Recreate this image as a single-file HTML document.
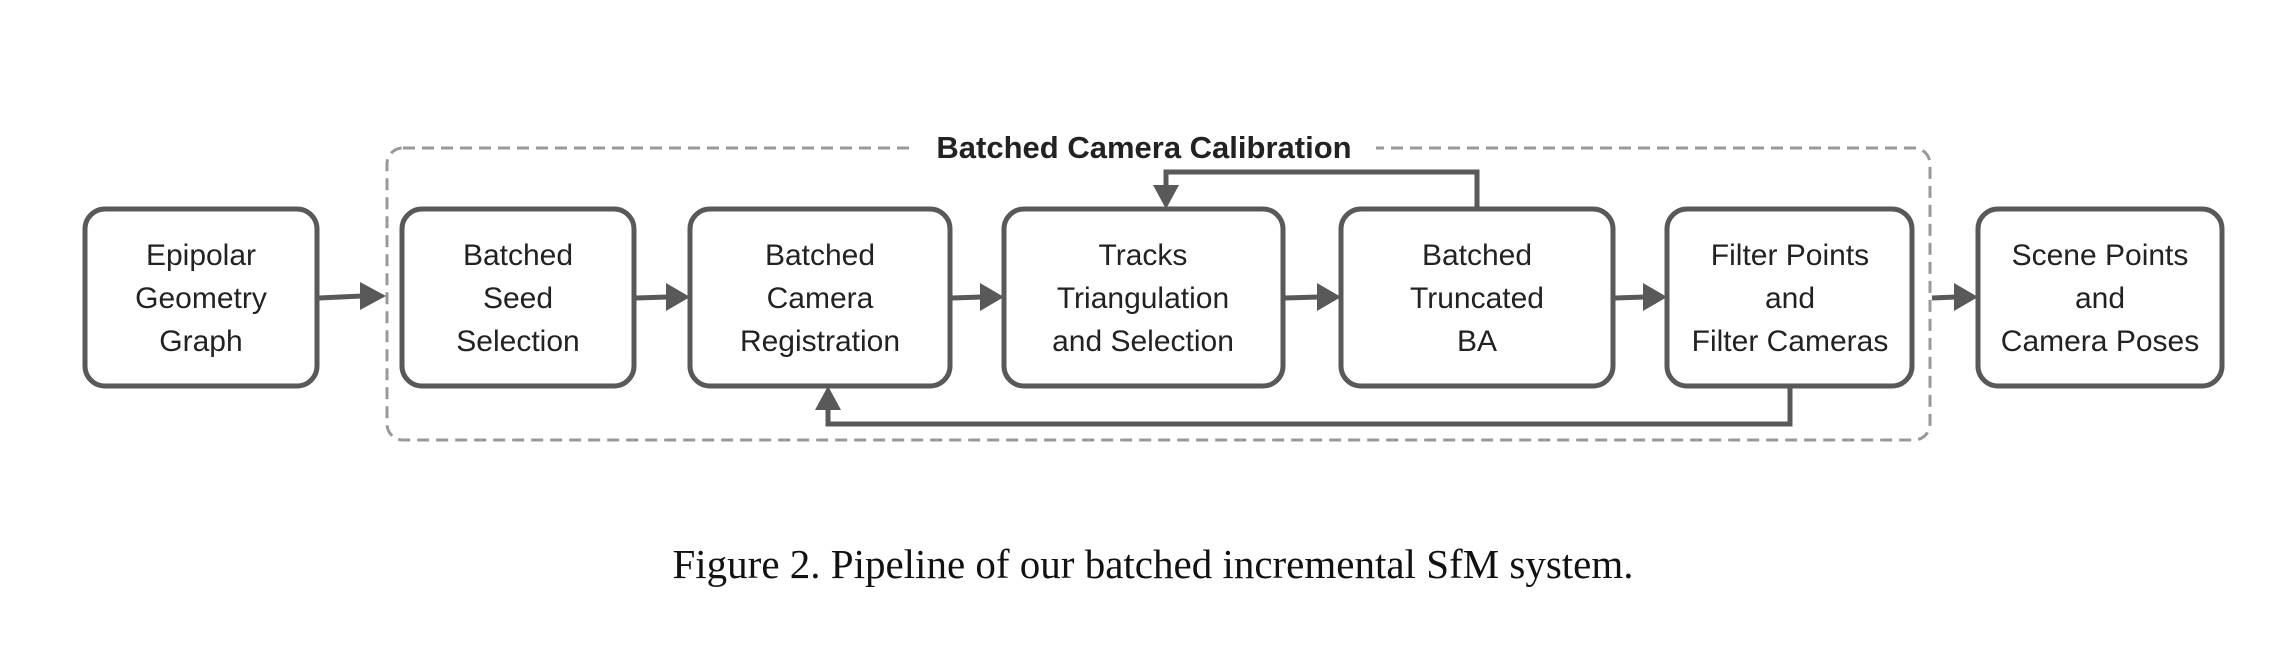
<!DOCTYPE html>
<html><head><style>
html,body{margin:0;padding:0;background:#fff;}
svg{display:block;}
.b{fill:#fff;stroke:#595959;stroke-width:5;}
.t{font-family:"Liberation Sans",sans-serif;font-size:30px;fill:#222;text-anchor:middle;}
.l{stroke:#595959;stroke-width:5;fill:none;}
.a{fill:#595959;}
</style></head><body>
<svg width="2291" height="647" viewBox="0 0 2291 647" xmlns="http://www.w3.org/2000/svg">
<rect x="387" y="148" width="1543" height="292" rx="16" fill="none" stroke="#999" stroke-width="3" stroke-dasharray="12,7"/>
<rect x="912" y="128" width="464" height="40" fill="#fff"/>
<text x="1144" y="158" font-family="Liberation Sans,sans-serif" font-size="31" font-weight="bold" fill="#222" text-anchor="middle">Batched Camera Calibration</text>

<rect class="b" x="85" y="209" width="232" height="177" rx="20"/>
<rect class="b" x="402" y="209" width="232" height="177" rx="20"/>
<rect class="b" x="690" y="209" width="260" height="177" rx="20"/>
<rect class="b" x="1004" y="209" width="279" height="177" rx="20"/>
<rect class="b" x="1341" y="209" width="272" height="177" rx="20"/>
<rect class="b" x="1667" y="209" width="245" height="177" rx="20"/>
<rect class="b" x="1978" y="209" width="244" height="177" rx="20"/>

<g class="t">
<text x="201" y="265">Epipolar</text><text x="201" y="308">Geometry</text><text x="201" y="351">Graph</text>
<text x="518" y="265">Batched</text><text x="518" y="308">Seed</text><text x="518" y="351">Selection</text>
<text x="820" y="265">Batched</text><text x="820" y="308">Camera</text><text x="820" y="351">Registration</text>
<text x="1143" y="265">Tracks</text><text x="1143" y="308">Triangulation</text><text x="1143" y="351">and Selection</text>
<text x="1477" y="265">Batched</text><text x="1477" y="308">Truncated</text><text x="1477" y="351">BA</text>
<text x="1790" y="265">Filter Points</text><text x="1790" y="308">and</text><text x="1790" y="351">Filter Cameras</text>
<text x="2100" y="265">Scene Points</text><text x="2100" y="308">and</text><text x="2100" y="351">Camera Poses</text>
</g>

<g>
<path class="l" d="M319 298 L362 296"/><polygon class="a" points="360,282 386,296 360,310"/>
<path class="l" d="M636 298 L668 297"/><polygon class="a" points="666,283 690,297 666,311"/>
<path class="l" d="M952 298 L982 297"/><polygon class="a" points="980,283 1004,297 980,311"/>
<path class="l" d="M1285 298 L1319 297"/><polygon class="a" points="1317,283 1341,297 1317,311"/>
<path class="l" d="M1615 298 L1645 297"/><polygon class="a" points="1643,283 1667,297 1643,311"/>
<path class="l" d="M1932 298 L1956 297"/><polygon class="a" points="1954,283 1978,297 1954,311"/>
</g>
<path class="l" d="M1477 209 L1477 172 L1166 172 L1166 188"/>
<polygon class="a" points="1153,185 1166,209 1179,185"/>
<path class="l" d="M1790 386 L1790 424 L828 424 L828 408"/>
<polygon class="a" points="815,410 828,386 841,410"/>

<text x="1153" y="578" font-family="Liberation Serif,serif" font-size="41" fill="#111" text-anchor="middle">Figure 2. Pipeline of our batched incremental SfM system.</text>
</svg>
</body></html>
